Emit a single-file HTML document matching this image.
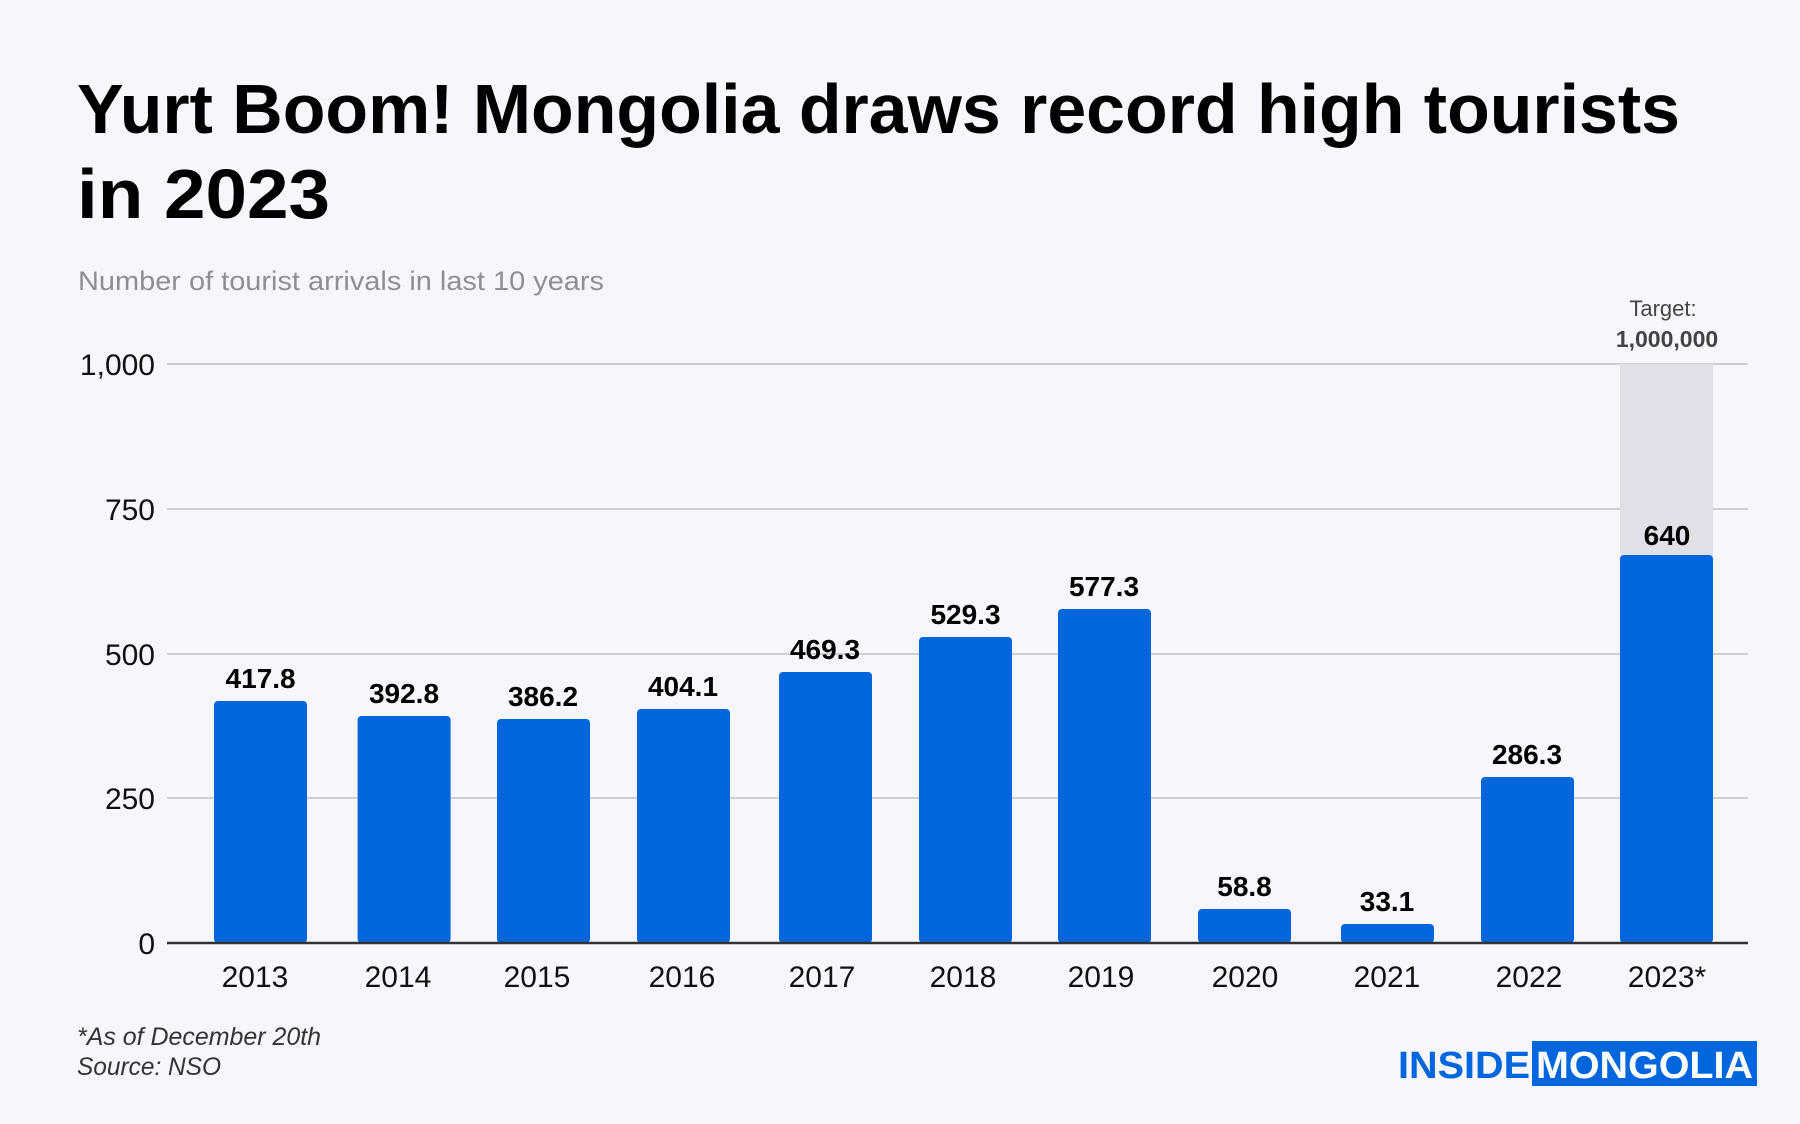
<!DOCTYPE html>
<html><head><meta charset="utf-8"><style>
html,body{margin:0;padding:0;background:#f6f6fc;}
svg{display:block;font-family:"Liberation Sans",sans-serif;}
</style></head><body>
<svg width="1800" height="1124" viewBox="0 0 1800 1124" xmlns="http://www.w3.org/2000/svg">
<rect width="1800" height="1124" fill="#f6f6fc"/>
<text x="77" y="133" font-size="70" font-weight="bold" fill="#000" textLength="1603" lengthAdjust="spacingAndGlyphs">Yurt Boom! Mongolia draws record high tourists</text>
<text x="77" y="218" font-size="70" font-weight="bold" fill="#000" textLength="253" lengthAdjust="spacingAndGlyphs">in 2023</text>
<text x="78" y="290" font-size="27" fill="#8e8e96" textLength="526" lengthAdjust="spacingAndGlyphs">Number of tourist arrivals in last 10 years</text>
<g stroke="#cfcfd6" stroke-width="2">
<line x1="167" y1="364" x2="1748" y2="364"/>
<line x1="167" y1="509" x2="1748" y2="509"/>
<line x1="167" y1="654" x2="1748" y2="654"/>
<line x1="167" y1="798" x2="1748" y2="798"/>
</g>
<g font-size="30" fill="#111" text-anchor="end">
<text x="155" y="375">1,000</text>
<text x="155" y="520">750</text>
<text x="155" y="665">500</text>
<text x="155" y="809">250</text>
<text x="155" y="954">0</text>
</g>
<rect x="1620" y="364" width="93" height="200" fill="#e0e0e8"/>
<g fill="#0066de">
<rect x="214" y="701" width="93" height="242" rx="4"/>
<rect x="357.6" y="716" width="93" height="227" rx="4"/>
<rect x="497" y="719" width="93" height="224" rx="4"/>
<rect x="637" y="709" width="93" height="234" rx="4"/>
<rect x="779" y="672" width="93" height="271" rx="4"/>
<rect x="919" y="637" width="93" height="306" rx="4"/>
<rect x="1058" y="609" width="93" height="334" rx="4"/>
<rect x="1198" y="909" width="93" height="34" rx="4"/>
<rect x="1341" y="924" width="93" height="19" rx="4"/>
<rect x="1481" y="777" width="93" height="166" rx="4"/>
<rect x="1620" y="555" width="93" height="388" rx="4"/>
</g>
<line x1="167" y1="943" x2="1748" y2="943" stroke="#333" stroke-width="2.5"/>
<g font-size="28" font-weight="bold" fill="#000" text-anchor="middle">
<text x="260.6" y="688">417.8</text>
<text x="404" y="703">392.8</text>
<text x="543" y="706">386.2</text>
<text x="683" y="696">404.1</text>
<text x="825" y="659">469.3</text>
<text x="965.5" y="624">529.3</text>
<text x="1104" y="596">577.3</text>
<text x="1244.5" y="896">58.8</text>
<text x="1387" y="911">33.1</text>
<text x="1527" y="764">286.3</text>
<text x="1667" y="545">640</text>
</g>
<g font-size="30" fill="#111" text-anchor="middle">
<text x="255" y="987">2013</text>
<text x="398" y="987">2014</text>
<text x="537" y="987">2015</text>
<text x="682" y="987">2016</text>
<text x="822" y="987">2017</text>
<text x="963" y="987">2018</text>
<text x="1101" y="987">2019</text>
<text x="1245" y="987">2020</text>
<text x="1387" y="987">2021</text>
<text x="1529" y="987">2022</text>
<text x="1667" y="987">2023*</text>
</g>
<text x="1663" y="316" font-size="22" fill="#444" text-anchor="middle">Target:</text>
<text x="1667" y="347" font-size="23" font-weight="bold" fill="#444" text-anchor="middle">1,000,000</text>
<text x="77" y="1045" font-size="25" font-style="italic" fill="#333" textLength="244" lengthAdjust="spacingAndGlyphs">*As of December 20th</text>
<text x="77" y="1075" font-size="25" font-style="italic" fill="#333" textLength="144" lengthAdjust="spacingAndGlyphs">Source: NSO</text>
<rect x="1532" y="1041" width="225" height="45" fill="#0066de"/>
<text x="1398" y="1078" font-size="38" font-weight="bold" fill="#0066de" textLength="132" lengthAdjust="spacingAndGlyphs">INSIDE</text>
<text x="1536" y="1078" font-size="38" font-weight="bold" fill="#fff" textLength="217" lengthAdjust="spacingAndGlyphs">MONGOLIA</text>
</svg>
</body></html>
